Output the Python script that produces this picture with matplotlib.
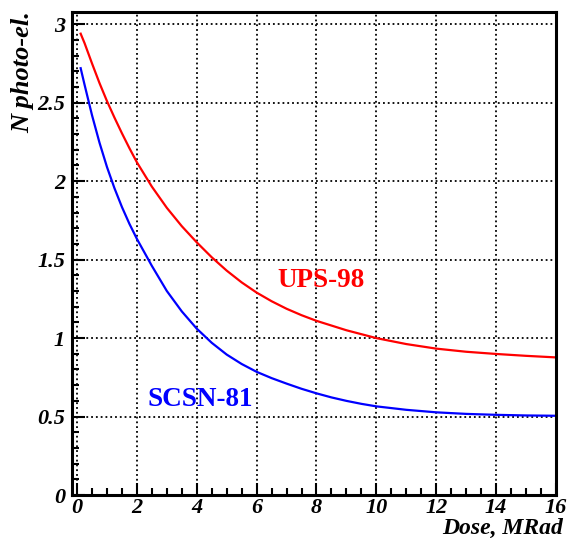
import matplotlib.pyplot as plt
from matplotlib.ticker import MultipleLocator

# valeurs
dose_ups = [0.12, 0.25, 0.5, 0.75, 1, 1.25, 1.5, 1.75, 2, 2.5, 3, 3.5, 4, 4.5,
            5, 5.5, 6, 6.5, 7, 7.5, 8, 9, 10, 11, 12, 13, 14, 15, 16]
n_ups = [2.94, 2.88, 2.75, 2.625, 2.51, 2.405, 2.305, 2.21, 2.12, 1.965, 1.83,
         1.713, 1.61, 1.515, 1.43, 1.355, 1.29, 1.235, 1.187, 1.146, 1.11,
         1.05, 1.0, 0.962, 0.933, 0.913, 0.899, 0.887, 0.877]

dose_scsn = [0.12, 0.25, 0.5, 0.75, 1, 1.25, 1.5, 1.75, 2, 2.5, 3, 3.5, 4,
             4.5, 5, 5.5, 6, 6.5, 7, 7.5, 8, 8.5, 9, 9.5, 10, 11, 12, 13, 14,
             15, 16]
n_scsn = [2.72, 2.615, 2.42, 2.245, 2.09, 1.955, 1.835, 1.728, 1.632, 1.46,
          1.30, 1.17, 1.06, 0.97, 0.895, 0.835, 0.785, 0.745, 0.71, 0.677,
          0.648, 0.622, 0.60, 0.581, 0.565, 0.543, 0.527, 0.517, 0.511, 0.507,
          0.505]

xticks = [0, 2, 4, 6, 8, 10, 12, 14, 16]
yticks = [0, 0.5, 1, 1.5, 2, 2.5, 3]
ytick_labels = ['0', '0.5', '1', '1.5', '2', '2.5', '3']

plt.rcParams['font.family'] = ['Liberation Serif', 'DejaVu Serif']

fig = plt.figure(figsize=(5.69, 5.4), dpi=100)
ax = fig.add_axes([0.1265, 0.0833, 0.8505, 0.895])

ax.plot(dose_ups, n_ups, color='red', linewidth=1.6)
ax.plot(dose_scsn, n_scsn, color='blue', linewidth=1.6)

ax.set_xlim(-0.17, 16)
ax.set_ylim(0, 3.08)

ax.set_xticks(xticks)
ax.set_xticklabels([str(t) for t in xticks])
ax.set_yticks(yticks)
ax.set_yticklabels(ytick_labels)
ax.xaxis.set_minor_locator(MultipleLocator(0.5))
ax.yaxis.set_minor_locator(MultipleLocator(0.1))

ax.tick_params(which='both', direction='in', top=False, right=False,
               width=1.5, labelsize=16)
ax.tick_params(which='major', length=9)
ax.tick_params(which='minor', length=5)
ax.tick_params(axis='x', pad=2)
ax.tick_params(axis='y', pad=5)
for lab in ax.get_xticklabels() + ax.get_yticklabels():
    lab.set_fontweight('bold')
    lab.set_fontstyle('italic')

for sp in ax.spines.values():
    sp.set_linewidth(2.2)

ax.grid(True, which='major', color='black', linestyle=':', linewidth=1.3)

# etiquettes courbes
ax.text(8.15, 1.37, 'UPS-98', color='red', fontsize=19.5, fontweight='bold',
        ha='center', va='center')
ax.text(4.1, 0.61, 'SCSN-81', color='blue', fontsize=19.5, fontweight='bold',
        ha='center', va='center')

fig.text(0.99, 0.002, 'Dose, MRad', ha='right', va='bottom', fontsize=17,
         fontweight='bold', fontstyle='italic')
fig.text(0.04, 0.98, 'N photo-el.', ha='center', va='top', rotation=90,
         fontsize=19, fontweight='bold', fontstyle='italic')

fig.savefig('out.png', dpi=100)
